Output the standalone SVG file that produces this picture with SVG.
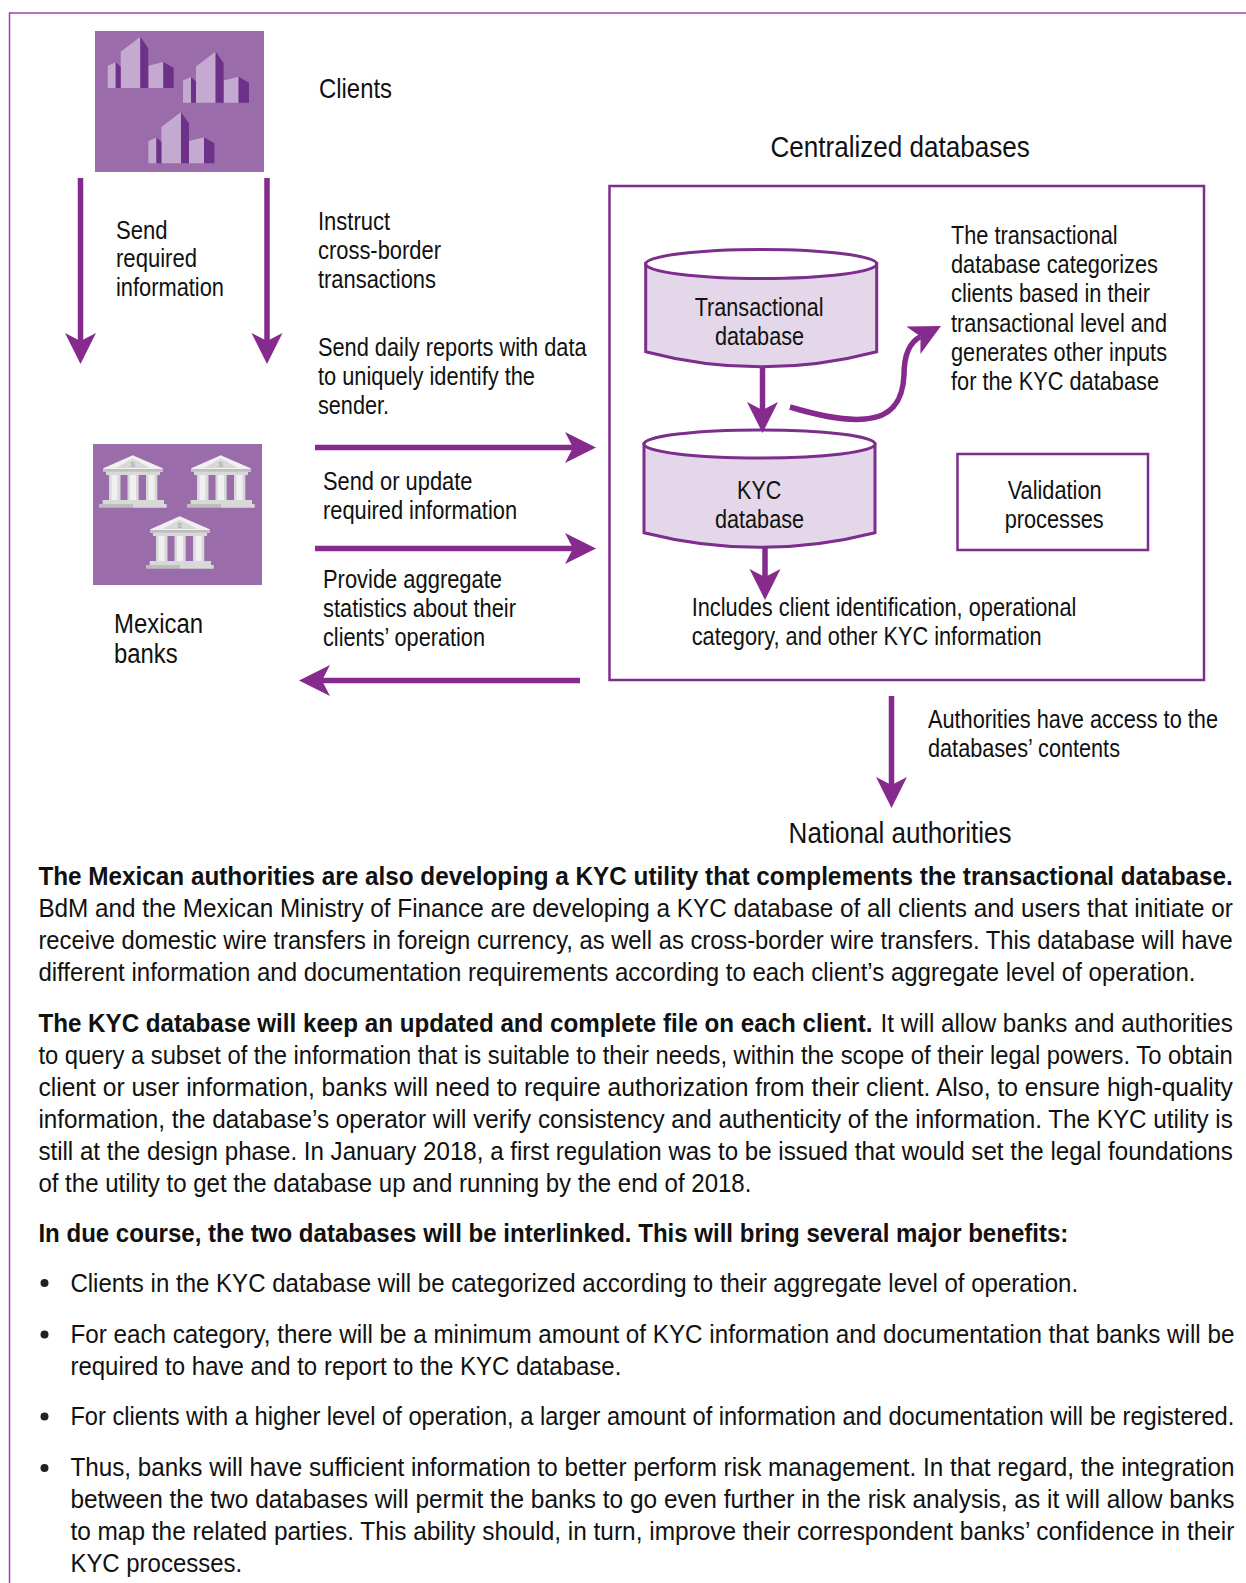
<svg xmlns="http://www.w3.org/2000/svg" width="1246" height="1583" viewBox="0 0 1246 1583">
<style>
text{font-family:"Liberation Sans",Arial,sans-serif;font-size:25px;fill:#111;lengthAdjust:spacingAndGlyphs}
.m{font-size:27.5px}
.t{font-size:30px}
.b{font-weight:700}
.ln{fill:none;stroke:#862a8e;stroke-width:5.5}
.box{fill:none;stroke:#7c2e8c;stroke-width:2.5}
.cyl{fill:#e3d7e9;stroke:#7c2e8c;stroke-width:3}
.top{fill:#fff;stroke:#7c2e8c;stroke-width:3}
.bg{fill:#9a6ca9}
.lt{fill:#c4a9d0}
.dk{fill:#6e318a}
.c1{fill:#f0f0f0}
.c2{fill:#bdbdbd}
.c3{fill:#d8d8d8}
.d{font-size:8px;fill:#a8a8a8}
</style>
<defs>
<marker id="ah" markerUnits="userSpaceOnUse" markerWidth="32" markerHeight="34" refX="8" refY="16" orient="auto" viewBox="0 0 32 34">
<path d="M0 0.5L31 16L0 31.5L8 16Z" fill="#862a8e"/>
</marker>
<g id="bld">
<path class="lt" d="M107.7 65.7L115.7 62.3V88H107.7ZM120.7 51.7L140.3 36.7V88H120.7ZM148.3 65.7L163.3 62V88H148.3Z"/>
<path class="dk" d="M115.7 62.3L120.7 66.7V88H115.7ZM140.3 36.7L148.3 48.3V88H140.3ZM163.3 62L173.7 68V88H163.3Z"/>
</g>
<g id="bank">
<path class="c1" d="M132.7 455.3L162.7 468.3V471.7H103.3V468.3Z"/>
<path class="c3" d="M132.7 458.5L150 468H115.5Z"/>
<path class="c2" d="M103.3 469H162.7V471.7H103.3Z"/>
<path class="c3" d="M106 471.7H160V475H106Z"/>
<path class="c3" d="M109 475H120.5V500H109ZM127.5 475H138.7V500H127.5ZM146 475H157.3V500H146Z"/>
<path class="c1" d="M111.5 475H117.5V500H111.5ZM130 475H136V500H130ZM148.5 475H154.5V500H148.5Z"/>
<path class="c3" d="M102.7 500H164V504H102.7Z"/>
<path class="c2" d="M99 504H133V507.7H99Z"/>
<path class="c3" d="M133 504H166.7V507.7H133Z"/>
<text class="d" x="130.5" y="466.5">$</text>
</g>
</defs>
<path id="frame" d="M9.5 1583V13H1246" fill="none" stroke="#a33fb0" stroke-width="1.5"/>

<g id="clients">
<rect class="bg" x="95" y="31" width="169" height="141"/>
<use href="#bld"/>
<use href="#bld" x="75.3" y="14.7"/>
<use href="#bld" x="40.7" y="75.3"/>
<text class="m" transform="matrix(.9 0 0 1 319 98)" textLength="81.1" lengthAdjust="spacingAndGlyphs">Clients</text>
</g>

<g id="banks">
<rect class="bg" x="93" y="444" width="169" height="141"/>
<use href="#bank"/>
<use href="#bank" x="88" y="0"/>
<use href="#bank" x="47" y="61"/>
<text class="m" transform="matrix(.9 0 0 1 114 633)" textLength="98.9" lengthAdjust="spacingAndGlyphs">Mexican</text>
<text class="m" transform="matrix(.9 0 0 1 114 663)" textLength="70.7" lengthAdjust="spacingAndGlyphs">banks</text>
</g>

<g id="central">
<text class="t" transform="matrix(.9 0 0 1 770.4 157)" textLength="288.3" lengthAdjust="spacingAndGlyphs">Centralized databases</text>
<rect class="box" x="609.5" y="186" width="594.5" height="494"/>
</g>

<g id="transactional-db">
<path class="cyl" d="M645.7 263.5V351.7Q761 382 876.7 351.7V263.5Z"/>
<ellipse class="top" cx="761.2" cy="264" rx="115.5" ry="14.5"/>
<text transform="matrix(.9 0 0 1 694.7 315.5)" textLength="143.3" lengthAdjust="spacingAndGlyphs">Transactional</text>
<text transform="matrix(.9 0 0 1 715 345)" textLength="98.9" lengthAdjust="spacingAndGlyphs">database</text>
</g>

<g id="kyc-db">
<path class="cyl" d="M644 444V532.7Q759.5 562 875 532.7V444Z"/>
<ellipse class="top" cx="759.5" cy="444" rx="115.5" ry="14"/>
<text transform="matrix(.9 0 0 1 737 499)" textLength="49.3" lengthAdjust="spacingAndGlyphs">KYC</text>
<text transform="matrix(.9 0 0 1 715 528)" textLength="98.9" lengthAdjust="spacingAndGlyphs">database</text>
</g>

<g id="validation">
<rect class="box" x="957.5" y="454" width="190.5" height="96"/>
<text transform="matrix(.9 0 0 1 1007.7 499)" textLength="104.4" lengthAdjust="spacingAndGlyphs">Validation</text>
<text transform="matrix(.9 0 0 1 1004.7 528)" textLength="110" lengthAdjust="spacingAndGlyphs">processes</text>
</g>

<g id="connectors">
<path class="ln" d="M80.5 178V341" marker-end="url(#ah)"/>
<path class="ln" d="M267 178V341" marker-end="url(#ah)"/>
<path class="ln" d="M315 447.5H573" marker-end="url(#ah)"/>
<path class="ln" d="M315 548.5H573" marker-end="url(#ah)"/>
<path class="ln" d="M580 680.5H322" marker-end="url(#ah)"/>
<path class="ln" d="M762.5 367V410" marker-end="url(#ah)"/>
<path class="ln" d="M765 548V577" marker-end="url(#ah)"/>
<path class="ln" d="M891.5 696V785" marker-end="url(#ah)"/>
<path class="ln" d="M790 407C820 416 845 421 865 419C895 417 903 397 904 375C904 357 908 343 920.5 336.6" marker-end="url(#ah)"/>
</g>

<g id="labels">
<text transform="matrix(.9 0 0 1 116 238.5)" textLength="57.2" lengthAdjust="spacingAndGlyphs">Send</text>
<text transform="matrix(.9 0 0 1 116 267)" textLength="90" lengthAdjust="spacingAndGlyphs">required</text>
<text transform="matrix(.9 0 0 1 116 296)" textLength="120" lengthAdjust="spacingAndGlyphs">information</text>
<text transform="matrix(.9 0 0 1 318 230)" textLength="80" lengthAdjust="spacingAndGlyphs">Instruct</text>
<text transform="matrix(.9 0 0 1 318 259)" textLength="136.7" lengthAdjust="spacingAndGlyphs">cross-border</text>
<text transform="matrix(.9 0 0 1 318 288)" textLength="131.1" lengthAdjust="spacingAndGlyphs">transactions</text>
<text transform="matrix(.9 0 0 1 318 356)" textLength="298.4" lengthAdjust="spacingAndGlyphs">Send daily reports with data</text>
<text transform="matrix(.9 0 0 1 318 385)" textLength="241.1" lengthAdjust="spacingAndGlyphs">to uniquely identify the</text>
<text transform="matrix(.9 0 0 1 318 414)" textLength="78.9" lengthAdjust="spacingAndGlyphs">sender.</text>
<text transform="matrix(.9 0 0 1 323 490)" textLength="166" lengthAdjust="spacingAndGlyphs">Send or update</text>
<text transform="matrix(.9 0 0 1 323 519)" textLength="215.6" lengthAdjust="spacingAndGlyphs">required information</text>
<text transform="matrix(.9 0 0 1 323 588)" textLength="198.9" lengthAdjust="spacingAndGlyphs">Provide aggregate</text>
<text transform="matrix(.9 0 0 1 323 617)" textLength="214.4" lengthAdjust="spacingAndGlyphs">statistics about their</text>
<text transform="matrix(.9 0 0 1 323 646)" textLength="180" lengthAdjust="spacingAndGlyphs">clients’ operation</text>
<text transform="matrix(.9 0 0 1 951 244)" textLength="185.1" lengthAdjust="spacingAndGlyphs">The transactional</text>
<text transform="matrix(.9 0 0 1 951 273)" textLength="230" lengthAdjust="spacingAndGlyphs">database categorizes</text>
<text transform="matrix(.9 0 0 1 951 302)" textLength="221.1" lengthAdjust="spacingAndGlyphs">clients based in their</text>
<text transform="matrix(.9 0 0 1 951 331.5)" textLength="240" lengthAdjust="spacingAndGlyphs">transactional level and</text>
<text transform="matrix(.9 0 0 1 951 361)" textLength="240" lengthAdjust="spacingAndGlyphs">generates other inputs</text>
<text transform="matrix(.9 0 0 1 951 390)" textLength="231.1" lengthAdjust="spacingAndGlyphs">for the KYC database</text>
<text transform="matrix(.9 0 0 1 691.7 616)" textLength="427.4" lengthAdjust="spacingAndGlyphs">Includes client identification, operational</text>
<text transform="matrix(.9 0 0 1 691.7 645)" textLength="388.9" lengthAdjust="spacingAndGlyphs">category, and other KYC information</text>
<text transform="matrix(.9 0 0 1 928 728)" textLength="322.2" lengthAdjust="spacingAndGlyphs">Authorities have access to the</text>
<text transform="matrix(.9 0 0 1 928 757)" textLength="213.3" lengthAdjust="spacingAndGlyphs">databases’ contents</text>
<text class="t" transform="matrix(.9 0 0 1 788.6 842.5)" textLength="247.8" lengthAdjust="spacingAndGlyphs">National authorities</text>
</g>

<g id="body">
<text class="b" transform="matrix(.9 0 0 1 38.4 885)" textLength="1327.1" lengthAdjust="spacingAndGlyphs">The Mexican authorities are also developing a KYC utility that complements the transactional database.</text>
<text transform="matrix(.9 0 0 1 38.4 916.7)" textLength="1327.1" lengthAdjust="spacingAndGlyphs">BdM and the Mexican Ministry of Finance are developing a KYC database of all clients and users that initiate or</text>
<text transform="matrix(.9 0 0 1 38.4 948.5)" textLength="1327.1" lengthAdjust="spacingAndGlyphs">receive domestic wire transfers in foreign currency, as well as cross-border wire transfers. This database will have</text>
<text transform="matrix(.9 0 0 1 38.4 980.8)" textLength="1285.6" lengthAdjust="spacingAndGlyphs">different information and documentation requirements according to each client’s aggregate level of operation.</text>
<text class="b" transform="matrix(.9 0 0 1 38.4 1032.3)" textLength="926.7" lengthAdjust="spacingAndGlyphs">The KYC database will keep an updated and complete file on each client.</text>
<text transform="matrix(.9 0 0 1 880.5 1032.3)" textLength="391.6" lengthAdjust="spacingAndGlyphs">It will allow banks and authorities</text>
<text transform="matrix(.9 0 0 1 38.4 1063.6)" textLength="1327.1" lengthAdjust="spacingAndGlyphs">to query a subset of the information that is suitable to their needs, within the scope of their legal powers. To obtain</text>
<text transform="matrix(.9 0 0 1 38.4 1096)" textLength="1327.1" lengthAdjust="spacingAndGlyphs">client or user information, banks will need to require authorization from their client. Also, to ensure high-quality</text>
<text transform="matrix(.9 0 0 1 38.4 1128)" textLength="1327.1" lengthAdjust="spacingAndGlyphs">information, the database’s operator will verify consistency and authenticity of the information. The KYC utility is</text>
<text transform="matrix(.9 0 0 1 38.4 1160)" textLength="1327.1" lengthAdjust="spacingAndGlyphs">still at the design phase. In January 2018, a first regulation was to be issued that would set the legal foundations</text>
<text transform="matrix(.9 0 0 1 38.4 1192)" textLength="792.2" lengthAdjust="spacingAndGlyphs">of the utility to get the database up and running by the end of 2018.</text>
<text class="b" transform="matrix(.9 0 0 1 38.4 1242.4)" textLength="1144.4" lengthAdjust="spacingAndGlyphs">In due course, the two databases will be interlinked. This will bring several major benefits:</text>
<circle cx="44.5" cy="1283" r="4" fill="#222"/>
<text transform="matrix(.9 0 0 1 70.4 1291.8)" textLength="1119.7" lengthAdjust="spacingAndGlyphs">Clients in the KYC database will be categorized according to their aggregate level of operation.</text>
<circle cx="44.5" cy="1334.5" r="4" fill="#222"/>
<text transform="matrix(.9 0 0 1 70.4 1343)" textLength="1293.3" lengthAdjust="spacingAndGlyphs">For each category, there will be a minimum amount of KYC information and documentation that banks will be</text>
<text transform="matrix(.9 0 0 1 70.4 1374.6)" textLength="612.2" lengthAdjust="spacingAndGlyphs">required to have and to report to the KYC database.</text>
<circle cx="44.5" cy="1416.5" r="4" fill="#222"/>
<text transform="matrix(.9 0 0 1 70.4 1425)" textLength="1293.3" lengthAdjust="spacingAndGlyphs">For clients with a higher level of operation, a larger amount of information and documentation will be registered.</text>
<circle cx="44.5" cy="1468" r="4" fill="#222"/>
<text transform="matrix(.9 0 0 1 70.4 1476.2)" textLength="1293.3" lengthAdjust="spacingAndGlyphs">Thus, banks will have sufficient information to better perform risk management. In that regard, the integration</text>
<text transform="matrix(.9 0 0 1 70.4 1508)" textLength="1293.3" lengthAdjust="spacingAndGlyphs">between the two databases will permit the banks to go even further in the risk analysis, as it will allow banks</text>
<text transform="matrix(.9 0 0 1 70.4 1540)" textLength="1293.3" lengthAdjust="spacingAndGlyphs">to map the related parties. This ability should, in turn, improve their correspondent banks’ confidence in their</text>
<text transform="matrix(.9 0 0 1 70.4 1572)" textLength="190.8" lengthAdjust="spacingAndGlyphs">KYC processes.</text>
</g>
</svg>
